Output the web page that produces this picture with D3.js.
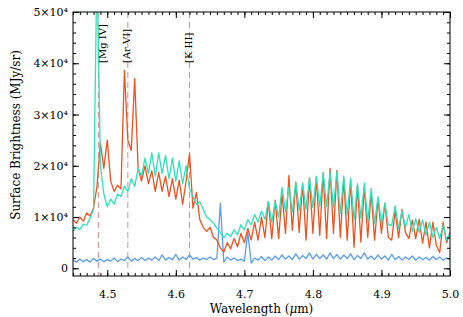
<!DOCTYPE html>
<html>
<head>
<meta charset="utf-8">
<script src="https://cdn.jsdelivr.net/npm/d3@7"></script>
<style>
  body { margin: 0; background: #fff; }
  #root { width: 463px; height: 317px; }
  text { font-family: 'DejaVu Serif', serif; fill: #000; }
</style>
</head>
<body>
<div id="root"></div>
<script>
// Wavelength grid (micron)
const wavelength = [
  4.450, 4.455, 4.460, 4.465, 4.470, 4.475, 4.480, 4.485, 4.490, 4.495,
  4.500, 4.505, 4.510, 4.515, 4.520, 4.525, 4.530, 4.535, 4.540, 4.545,
  4.550, 4.555, 4.560, 4.565, 4.570, 4.575, 4.580, 4.585, 4.590, 4.595,
  4.600, 4.605, 4.610, 4.615, 4.620, 4.625, 4.630, 4.635, 4.640, 4.645,
  4.650, 4.655, 4.660, 4.665, 4.670, 4.675, 4.680, 4.685, 4.690, 4.695,
  4.700, 4.705, 4.710, 4.715, 4.720, 4.725, 4.730, 4.735, 4.740, 4.745,
  4.750, 4.755, 4.760, 4.765, 4.770, 4.775, 4.780, 4.785, 4.790, 4.795,
  4.800, 4.805, 4.810, 4.815, 4.820, 4.825, 4.830, 4.835, 4.840, 4.845,
  4.850, 4.855, 4.860, 4.865, 4.870, 4.875, 4.880, 4.885, 4.890, 4.895,
  4.900, 4.905, 4.910, 4.915, 4.920, 4.925, 4.930, 4.935, 4.940, 4.945,
  4.950, 4.955, 4.960, 4.965, 4.970, 4.975, 4.980, 4.985, 4.990, 4.995,
  5.000
];

// Surface brightness, units of 1e4 MJy/sr
const fluxRed = [
  0.95, 0.88, 1.00, 0.92, 1.08, 1.02, 1.18, 1.60, 2.45, 1.95,
  2.50, 1.70, 1.50, 1.62, 1.55, 3.86, 2.50, 2.30, 3.70, 1.95,
  1.70, 2.00, 1.65, 1.90, 1.50, 1.87, 1.50, 1.80, 1.40, 1.75,
  1.35, 1.72, 1.25, 1.70, 2.24, 1.17, 1.48, 0.95, 0.80, 0.72,
  0.80, 0.60, 0.55, 0.40, 0.32, 0.50, 0.38, 0.58, 0.42, 0.68,
  0.50, 0.78, 0.55, 0.90, 0.55, 1.00, 0.60, 1.30, 0.58, 1.33,
  0.58, 1.46, 0.68, 1.81, 0.74, 1.68, 0.70, 1.66, 0.55, 1.77,
  0.68, 1.77, 0.64, 1.85, 0.58, 1.95, 0.68, 1.91, 0.60, 1.75,
  0.55, 1.72, 0.41, 1.62, 0.51, 1.60, 0.60, 1.48, 0.55, 1.36,
  0.68, 1.27, 0.60, 0.55, 1.13, 0.60, 1.15, 0.70, 0.58, 0.94,
  0.58, 0.96, 0.49, 0.90, 0.40, 0.90, 0.45, 0.31, 0.90, 0.50,
  0.70
];

const fluxTeal = [
  0.72, 0.80, 0.76, 0.86, 0.84, 0.98, 1.15, 6.00, 2.00, 1.45,
  1.20, 1.35, 1.25, 1.45, 1.40, 1.60, 1.50, 1.75, 1.60, 1.95,
  1.80, 2.15, 1.85, 2.25, 1.80, 2.25, 1.85, 2.20, 1.75, 2.15,
  1.70, 2.10, 1.65, 2.00, 1.55, 1.40, 1.25, 1.30, 1.15, 1.00,
  0.95, 0.88, 0.78, 0.70, 0.60, 0.68, 0.62, 0.75, 0.65, 0.85,
  0.75, 0.95, 0.85, 1.05, 0.90, 1.12, 0.95, 1.30, 0.90, 1.30,
  1.00, 1.58, 1.10, 1.58, 1.10, 1.68, 1.13, 1.65, 1.15, 1.77,
  1.19, 1.80, 1.20, 1.87, 1.20, 1.87, 1.20, 1.88, 1.07, 1.80,
  1.04, 1.75, 0.94, 1.65, 0.98, 1.66, 0.90, 1.56, 0.88, 1.40,
  0.88, 1.27, 0.85, 0.84, 1.22, 0.78, 1.12, 0.80, 1.05, 0.72,
  0.97, 0.70, 0.94, 0.65, 0.90, 0.60, 0.80, 0.58, 0.84, 0.55,
  0.68
];

const fluxBlue = [
  0.16, 0.12, 0.18, 0.13, 0.17, 0.12, 0.19, 0.14, 0.18, 0.13,
  0.17, 0.14, 0.20, 0.13, 0.18, 0.15, 0.22, 0.14, 0.19, 0.15,
  0.21, 0.15, 0.20, 0.16, 0.22, 0.15, 0.26, 0.16, 0.21, 0.17,
  0.27, 0.16, 0.22, 0.17, 0.26, 0.18, 0.21, 0.16, 0.20, 0.17,
  0.22, 0.17, 0.20, 1.27, 0.12, 0.22, 0.16, 0.20, 0.15, 0.18,
  0.14, 0.70, 0.10, 0.20, 0.16, 0.23, 0.15, 0.22, 0.16, 0.24,
  0.17, 0.26, 0.18, 0.24, 0.17, 0.28, 0.18, 0.25, 0.19, 0.30,
  0.18, 0.27, 0.19, 0.26, 0.18, 0.30, 0.19, 0.27, 0.18, 0.26,
  0.19, 0.28, 0.17, 0.25, 0.19, 0.30, 0.18, 0.24, 0.17, 0.26,
  0.18, 0.24, 0.16, 0.27, 0.17, 0.23, 0.16, 0.22, 0.17, 0.24,
  0.16, 0.22, 0.17, 0.21, 0.16, 0.23, 0.17, 0.22, 0.16, 0.20,
  0.17
];

const xTicks = [4.5, 4.6, 4.7, 4.8, 4.9, 5.0];
const xTickLabels = ['4.5', '4.6', '4.7', '4.8', '4.9', '5.0'];
const yTicks = [0, 1, 2, 3, 4, 5];
const yTickLabels = ['0', '1×10⁴', '2×10⁴', '3×10⁴', '4×10⁴', '5×10⁴'];

const lineNames = ['[Mg IV]', '[Ar VI]', '[K III]'];
const lineWaves = [4.487, 4.530, 4.620];

const root = document.getElementById('root');
const width = 463;
const height = 317;

const svg = d3.select(root)
    .append('svg')
    .attr('width', width)
    .attr('height', height);

// plot box
const boxL = 73, boxR = 450, boxT = 12, boxB = 276;

const x = d3.scaleLinear().domain([4.45, 5.0]).range([boxL, boxR]);
const y = d3.scaleLinear().domain([-0.15, 5]).range([boxB, boxT]);

const xMinor = d3.range(445, 501, 1).map(d => d / 100);
const yMinor = d3.range(0, 26, 1).map(d => d / 5);

svg.append('clipPath')
    .attr('id', 'plot-clip')
    .append('rect')
    .attr('x', boxL)
    .attr('y', boxT)
    .attr('width', boxR - boxL)
    .attr('height', boxB - boxT);

// dashed line markers
svg.selectAll('.marker')
    .data(lineWaves)
    .enter()
    .append('line')
    .attr('class', 'marker')
    .attr('x1', d => x(d))
    .attr('x2', d => x(d))
    .attr('y1', boxT)
    .attr('y2', boxB)
    .attr('stroke', '#d98c8c')
    .attr('stroke-width', 1)
    .attr('stroke-dasharray', '6,4');

// spectra
const line = d3.line()
    .x((d, i) => x(wavelength[i]))
    .y(d => y(d));

const series = [
    {values: fluxBlue, color: '#5a9cf0'},
    {values: fluxRed, color: '#ee5220'},
    {values: fluxTeal, color: '#2ee2b8'}
];

svg.append('g')
    .attr('clip-path', 'url(#plot-clip)')
    .selectAll('path')
    .data(series)
    .enter()
    .append('path')
    .attr('d', d => line(d.values))
    .attr('fill', 'none')
    .attr('stroke', d => d.color)
    .attr('stroke-width', 1.3)
    .attr('stroke-linejoin', 'round');

// line labels (vertical)
const labelShift = [8, 2, 2];
svg.selectAll('.line-label')
    .data(lineNames)
    .enter()
    .append('text')
    .attr('class', 'line-label')
    .attr('font-size', '10px')
    .attr('transform', (d, i) => `translate(${x(lineWaves[i]) + labelShift[i]},63)rotate(-90)`)
    .text(d => d);

// Axes, ticks inward on all four sides
const clean = g => g.select('.domain').remove();

svg.append('g')
    .attr('transform', `translate(0,${boxB})`)
    .call(d3.axisBottom(x).tickValues(xMinor).tickSize(-3).tickFormat(''))
    .call(clean);
svg.append('g')
    .attr('transform', `translate(0,${boxB})`)
    .call(d3.axisBottom(x).tickValues(xTicks).tickSize(-6).tickPadding(14)
        .tickFormat((d, i) => xTickLabels[i]))
    .call(clean)
    .selectAll('text').attr('font-size', '11px').attr('font-family', 'DejaVu Serif');

svg.append('g')
    .attr('transform', `translate(0,${boxT})`)
    .call(d3.axisTop(x).tickValues(xMinor).tickSize(-3).tickFormat(''))
    .call(clean);
svg.append('g')
    .attr('transform', `translate(0,${boxT})`)
    .call(d3.axisTop(x).tickValues(xTicks).tickSize(-6).tickFormat(''))
    .call(clean);

svg.append('g')
    .attr('transform', `translate(${boxL},0)`)
    .call(d3.axisLeft(y).tickValues(yMinor).tickSize(-3).tickFormat(''))
    .call(clean);
svg.append('g')
    .attr('transform', `translate(${boxL},0)`)
    .call(d3.axisLeft(y).tickValues(yTicks).tickSize(-6).tickPadding(5)
        .tickFormat((d, i) => yTickLabels[i]))
    .call(clean)
    .selectAll('text').attr('font-size', '11px').attr('font-family', 'DejaVu Serif');

svg.append('g')
    .attr('transform', `translate(${boxR},0)`)
    .call(d3.axisRight(y).tickValues(yMinor).tickSize(-3).tickFormat(''))
    .call(clean);
svg.append('g')
    .attr('transform', `translate(${boxR},0)`)
    .call(d3.axisRight(y).tickValues(yTicks).tickSize(-6).tickFormat(''))
    .call(clean);

svg.append('rect')
    .attr('x', boxL)
    .attr('y', boxT)
    .attr('width', boxR - boxL)
    .attr('height', boxB - boxT)
    .attr('fill', 'none')
    .attr('stroke', '#000')
    .attr('stroke-width', 1);

// Titles
const xTitle = svg.append('text')
    .attr('x', (boxL + boxR) / 2)
    .attr('y', 313)
    .attr('text-anchor', 'middle')
    .attr('font-size', '12px');
xTitle.append('tspan').text('Wavelength (');
xTitle.append('tspan').attr('font-style', 'italic').text('μ');
xTitle.append('tspan').text('m)');

svg.append('text')
    .attr('text-anchor', 'middle')
    .attr('font-size', '12px')
    .attr('transform', 'translate(20,135)rotate(-90)')
    .text('Surface Brightness (MJy/sr)');
</script>
</body>
</html>
